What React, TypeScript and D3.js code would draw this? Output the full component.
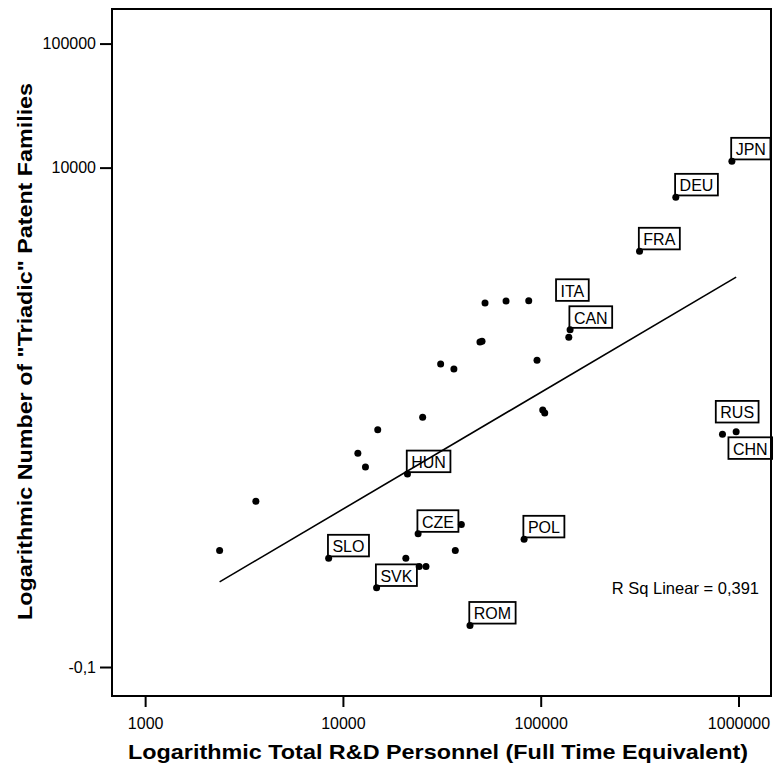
import React, { useEffect, useRef } from 'react';
import * as d3 from 'd3';

// one entry per country
const pointLabels = ['', '', '', '', '', 'SLO', 'SVK', '', '', 'ITA', '', '', '', '', '', 'CAN', '', '', '', '', 'HUN', 'CZE', '', 'POL', '', '', '', '', 'ROM', 'JPN', 'DEU', 'FRA', 'RUS', 'CHN'];
const rdPersonnel = [2380, 3630, 11900, 13000, 15000, 8470, 14800, 52300, 66800, 87000, 49300, 50500, 31200, 36400, 95800, 140800, 138700, 25300, 102400, 104800, 21200, 24000, 39700, 82400, 37000, 20800, 24300, 26300, 43900, 926000, 482000, 316000, 830000, 973000];
const patentFamilies = [8.2, 20.4, 49.8, 38.6, 77, 7.1, 4.1, 811, 841, 846, 393, 398, 261, 238, 280, 494, 429, 97, 111, 105, 33.9, 11.2, 13.3, 10.1, 8.2, 7.1, 6.1, 6.1, 2.04, 11260, 5770, 2120, 70.8, 74.3];

const xTickValues = [1000, 10000, 100000, 1000000];
const xTickLabels = ['1000', '10000', '100000', '1000000'];
const yTickValues = [100000, 10000, 0.942];
const yTickLabels = ['100000', '10000', '-0,1'];

const xDomain = [680, 1460000];
const yDomain = [0.55, 190000];

const xTitle = 'Logarithmic Total R&D Personnel (Full Time Equivalent)';
const yTitle = 'Logarithmic Number of "Triadic" Patent Families';
const rSqText = 'R Sq Linear = 0,391';

// labels that SPSS moved away from their default spot
const labelShift: Record<string, [number, number]> = {
  ITA: [28, 2],
  RUS: [-6, -10],
  CHN: [-7, 29],
};

const FONT = '"Liberation Sans", Arial, Helvetica, sans-serif';

const App = () => {
  const ref = useRef<SVGSVGElement>(null);

  useEffect(() => {
    const W = 778;
    const H = 766;
    const frame = { left: 112, top: 9, right: 771, bottom: 696 };

    const svg = d3.select(ref.current);
    svg.selectAll('*').remove();
    svg.attr('width', W).attr('height', H);

    const x = d3.scaleLog().domain(xDomain).range([frame.left, frame.right]);
    const y = d3.scaleLog().domain(yDomain).range([frame.bottom, frame.top]);

    const points = rdPersonnel.map((v, i) => ({
      x: v,
      y: patentFamilies[i],
      label: pointLabels[i],
    }));

    svg.append('rect')
      .attr('width', W)
      .attr('height', H)
      .attr('fill', '#fff');

    // axes
    const xAxis = d3.axisBottom(x)
      .tickValues(xTickValues)
      .tickFormat((d, i) => xTickLabels[i])
      .tickSize(11)
      .tickPadding(10.5);
    const gx = svg.append('g')
      .attr('transform', `translate(0,${frame.bottom})`)
      .call(xAxis);

    const yAxis = d3.axisLeft(y)
      .tickValues(yTickValues)
      .tickFormat((d, i) => yTickLabels[i])
      .tickSize(12)
      .tickPadding(4);
    const gy = svg.append('g')
      .attr('transform', `translate(${frame.left},0)`)
      .call(yAxis);

    [gx, gy].forEach((g) => {
      g.select('.domain').remove();
      g.selectAll('line').attr('stroke', '#000').attr('stroke-width', 2);
      g.selectAll('text')
        .attr('fill', '#000')
        .style('font-family', FONT)
        .style('font-size', '16px');
    });

    // frame
    svg.append('rect')
      .attr('x', frame.left)
      .attr('y', frame.top)
      .attr('width', frame.right - frame.left)
      .attr('height', frame.bottom - frame.top)
      .attr('fill', 'none')
      .attr('stroke', '#000')
      .attr('stroke-width', 2);

    // linear fit in log-log space
    const lx = points.map((p) => Math.log10(p.x));
    const ly = points.map((p) => Math.log10(p.y));
    const mx = d3.mean(lx)!;
    const my = d3.mean(ly)!;
    const slope = d3.sum(lx, (v, i) => (v - mx) * (ly[i] - my)) / d3.sum(lx, (v) => (v - mx) ** 2);
    const icpt = my - slope * mx;
    const [x0, x1] = d3.extent(lx) as [number, number];
    const fit = [x0, x1].map((v) => ({ x: 10 ** v, y: 10 ** (icpt + slope * v) }));

    svg.append('path')
      .datum(fit)
      .attr('fill', 'none')
      .attr('stroke', '#000')
      .attr('stroke-width', 1.6)
      .attr('d', d3.line<{ x: number; y: number }>().x((d) => x(d.x)).y((d) => y(d.y)));

    // point labels in boxes
    const labelled = points.filter((p) => p.label);
    const lg = svg.append('g');
    labelled.forEach((p) => {
      const [dx, dy] = labelShift[p.label] || [0, 0];
      const left = x(p.x) - 0.7 + dx;
      const bottom = y(p.y) - 1.8 + dy;
      const t = lg.append('text')
        .attr('x', left + 4.5)
        .attr('y', bottom - 4.3)
        .attr('fill', '#000')
        .style('font-family', FONT)
        .style('font-size', '16px')
        .text(p.label);
      const tw = (t.node() as SVGTextElement).getComputedTextLength();
      lg.insert('rect', 'text')
        .attr('x', left)
        .attr('y', bottom - 21.6)
        .attr('width', tw + 9)
        .attr('height', 21.6)
        .attr('fill', 'none')
        .attr('stroke', '#000')
        .attr('stroke-width', 1.8);
    });

    // dots
    svg.append('g')
      .selectAll('circle')
      .data(points)
      .join('circle')
      .attr('cx', (d) => x(d.x))
      .attr('cy', (d) => y(d.y))
      .attr('r', 3.5)
      .attr('fill', '#000');

    svg.append('text')
      .attr('x', 759)
      .attr('y', 593.5)
      .attr('text-anchor', 'end')
      .attr('fill', '#000')
      .style('font-family', FONT)
      .style('font-size', '16.5px')
      .text(rSqText);

    // titles
    svg.append('text')
      .attr('x', 438)
      .attr('y', 759)
      .attr('text-anchor', 'middle')
      .attr('textLength', 620)
      .attr('lengthAdjust', 'spacingAndGlyphs')
      .attr('fill', '#000')
      .style('font-family', FONT)
      .style('font-size', '21px')
      .style('font-weight', 'bold')
      .text(xTitle);

    svg.append('text')
      .attr('transform', 'translate(32,351.5) rotate(-90)')
      .attr('text-anchor', 'middle')
      .attr('textLength', 537)
      .attr('lengthAdjust', 'spacingAndGlyphs')
      .attr('fill', '#000')
      .style('font-family', FONT)
      .style('font-size', '21px')
      .style('font-weight', 'bold')
      .text(yTitle);
  }, []);

  return (
    <svg ref={ref} style={{ position: 'absolute', left: 0, top: 0, display: 'block' }} />
  );
};

export default App;
